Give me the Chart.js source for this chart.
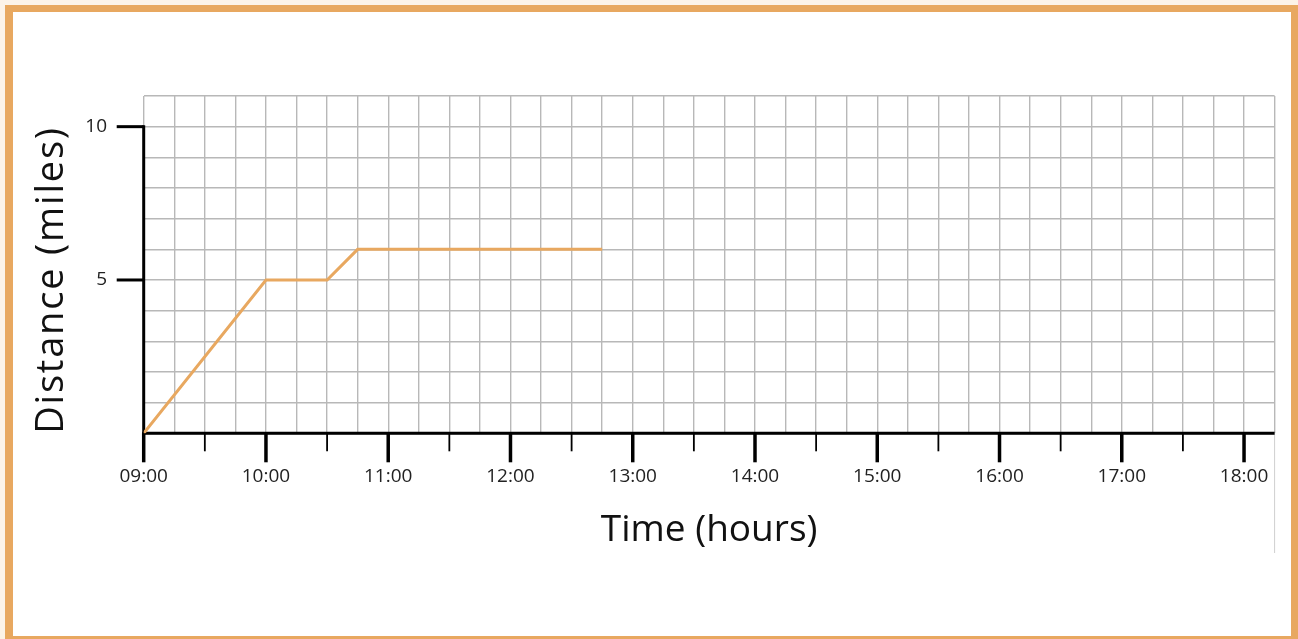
<!DOCTYPE html>
<html>
<head>
<meta charset="utf-8">
<script src="https://cdn.jsdelivr.net/npm/chart.js@4"></script>
<style>
  html, body { margin: 0; padding: 0; }
  body { width: 1298px; height: 639px; background: #fcf3e8; position: relative; overflow: hidden; }
  #frame { position: absolute; left: 5px; top: 5px; width: 1278px; height: 624px;
           border-style: solid; border-color: #e8a860; border-width: 7px 7px 3px 8px; background: #fff; }
  #c { position: absolute; left: 0; top: 0; }
</style>
</head>
<body>
<div id="frame"></div>
<canvas id="c" width="1298" height="639"></canvas>
<script>
// ---- data ----
const timeHours = [0, 1, 1.5, 1.75, 3.75];          // hours after 09:00
const distanceMiles = [0, 5, 5, 6, 6];
const hourLabels = ['09:00','10:00','11:00','12:00','13:00','14:00','15:00','16:00','17:00','18:00'];
const yLabelValues = [5, 10];
const xMax = 9.25;
const yMax = 11;
const xTitle = 'Time (hours)';
const yTitle = 'Distance (miles)';

const FONT = '"Open Sans", "Noto Sans", sans-serif';

const axesPlugin = {
  id: 'blackAxes',
  beforeDatasetsDraw(chart) {
    const { ctx, scales: { x, y } } = chart;
    const x0 = x.getPixelForValue(0);
    const y0 = y.getPixelForValue(0);
    const xr = x.getPixelForValue(xMax);
    ctx.save();
    ctx.lineCap = 'butt';
    // thin gray line at right edge
    ctx.strokeStyle = '#cfcfcf';
    ctx.lineWidth = 1;
    ctx.beginPath(); ctx.moveTo(xr, y0); ctx.lineTo(xr, 553); ctx.stroke();
    ctx.strokeStyle = '#000';
    // y axis
    ctx.lineWidth = 3;
    ctx.beginPath();
    ctx.moveTo(x0, y.getPixelForValue(10) - 1.5);
    ctx.lineTo(x0, y0 + 1.5);
    ctx.stroke();
    // x axis
    ctx.beginPath();
    ctx.moveTo(x0 - 1.5, y0);
    ctx.lineTo(xr, y0);
    ctx.stroke();
    // y ticks
    yLabelValues.forEach(v => {
      const py = y.getPixelForValue(v);
      ctx.beginPath(); ctx.moveTo(x0 - 27, py); ctx.lineTo(x0, py); ctx.stroke();
    });
    // x ticks
    hourLabels.forEach((_, h) => {
      const px = x.getPixelForValue(h);
      ctx.lineWidth = 3.5;
      ctx.beginPath(); ctx.moveTo(px, y0); ctx.lineTo(px, y0 + 29); ctx.stroke();
      if (h + 0.5 < xMax) {
        const ph = x.getPixelForValue(h + 0.5);
        ctx.lineWidth = 1.8;
        ctx.beginPath(); ctx.moveTo(ph, y0); ctx.lineTo(ph, y0 + 18); ctx.stroke();
      }
    });
    ctx.restore();
  },
  afterDraw(chart) {
    // y-axis title, centred on the 0..10 part of the axis
    const { ctx, scales: { y } } = chart;
    const cy = (y.getPixelForValue(0) + y.getPixelForValue(10)) / 2;
    ctx.save();
    ctx.translate(52, cy);
    ctx.rotate(-Math.PI / 2);
    ctx.font = '38px ' + FONT;
    if ('letterSpacing' in ctx) ctx.letterSpacing = '1.8px';
    ctx.fillStyle = '#111';
    ctx.textAlign = 'center';
    ctx.textBaseline = 'middle';
    ctx.fillText(yTitle, 0, 0);
    ctx.restore();
  }
};

new Chart(document.getElementById('c'), {
  type: 'line',
  data: {
    datasets: [{
      data: timeHours.map((t, i) => ({ x: t, y: distanceMiles[i] })),
      borderColor: '#e8a860',
      borderWidth: 3,
      pointRadius: 0,
      tension: 0,
      fill: false
    }]
  },
  options: {
    responsive: false,
    animation: false,
    layout: { padding: { left: 0, top: 96, right: 23.4, bottom: 0 } },
    plugins: { legend: { display: false }, tooltip: { enabled: false } },
    scales: {
      x: {
        type: 'linear', min: 0, max: xMax,
        afterFit: s => { s.height = 639 - 433.3; s.paddingLeft = 0; s.paddingRight = 0; },
        border: { display: false },
        grid: { color: '#b8b8b8', lineWidth: 1.4, drawTicks: false },
        ticks: {
          stepSize: 0.25, autoSkip: false, maxRotation: 0, minRotation: 0,
          padding: 32, color: '#222',
          font: { family: FONT, size: 19 },
          callback: v => Number.isInteger(v) && hourLabels[v] ? hourLabels[v] : ''
        },
        title: {
          display: true, text: xTitle, color: '#111',
          font: { family: FONT, size: 37 },
          padding: { top: 0, bottom: 86.8 }
        }
      },
      y: {
        type: 'linear', min: 0, max: yMax,
        afterFit: s => { s.width = 143.7; s.paddingTop = 0; s.paddingBottom = 0; },
        border: { display: false },
        grid: { color: '#b8b8b8', lineWidth: 1.4, drawTicks: false },
        ticks: {
          stepSize: 1, autoSkip: false, padding: 36.7, color: '#222',
          font: { family: FONT, size: 19 },
          callback: v => yLabelValues.includes(v) ? String(v) : ''
        },
        title: { display: false }
      }
    }
  },
  plugins: [axesPlugin]
});
</script>
</body>
</html>
